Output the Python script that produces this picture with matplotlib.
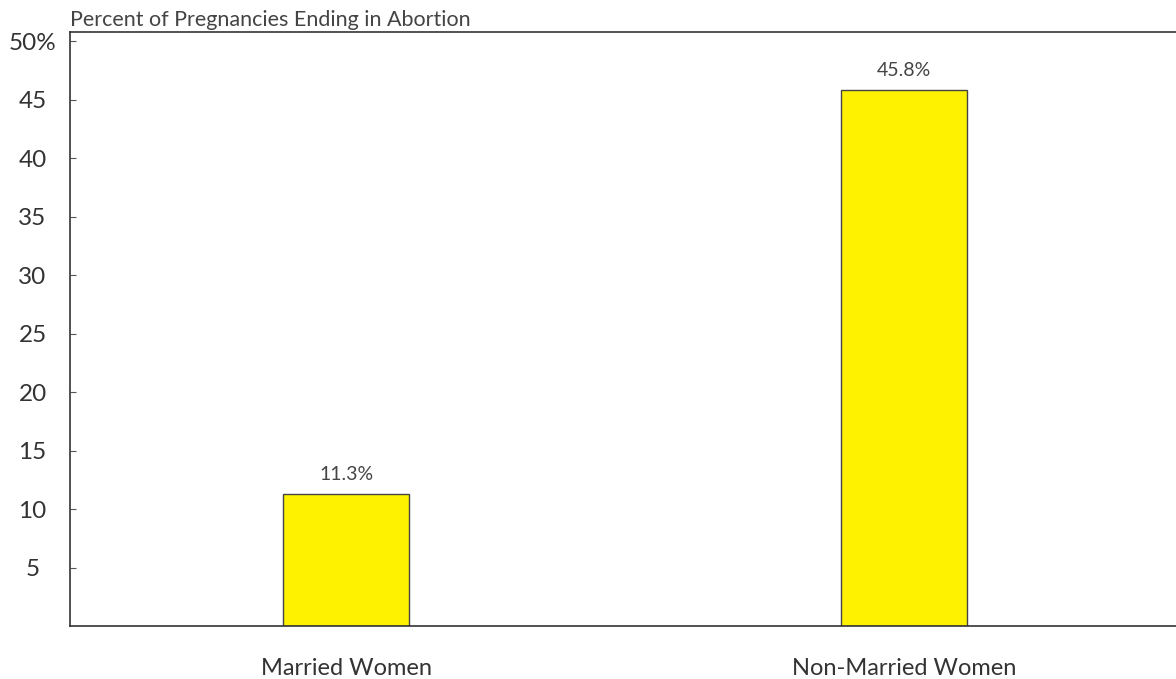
import matplotlib.pyplot as plt

categories = ["Married Women", "Non-Married Women"]
values = [11.3, 45.8]
ytick_vals = [5, 10, 15, 20, 25, 30, 35, 40, 45, 50]
ytick_labels = ["5", "10", "15", "20", "25", "30", "35", "40", "45", "50%"]

plt.rcParams['font.family'] = ['Lato', 'DejaVu Sans']
text_col = '#333333'

fig = plt.figure(figsize=(11.76, 6.79), dpi=100)
ax = fig.add_axes([70 / 1176, 53 / 679, 1110 / 1176, 594 / 679])

x = range(len(categories))
bars = ax.bar(x, values, width=0.226, color='#fff200', edgecolor='#444444', linewidth=1.0)

for xi, v in zip(x, values):
    ax.annotate(f"{v:.1f}%", (xi, v), xytext=(0, 8), textcoords='offset points',
                ha='center', va='bottom', fontsize=14, color='#444444')

ax.set_xlim(-0.495, 1.495)
ax.set_ylim(0, 50.8)

ax.set_yticks(ytick_vals)
ax.set_yticklabels(ytick_labels, ha='center')
ax.tick_params(axis='y', direction='in', length=4, width=0.8, pad=27,
               labelsize=17.5, labelcolor=text_col, color='#555555')
ax.set_xticks(list(x))
ax.set_xticklabels(categories)
ax.tick_params(axis='x', length=0, pad=23, labelsize=17, labelcolor=text_col)

ax.spines['right'].set_visible(False)
for s in ['left', 'bottom', 'top']:
    ax.spines[s].set_color('#333333')
    ax.spines[s].set_linewidth(1.2)

ax.text(0, 1.003, "Percent of Pregnancies Ending in Abortion", transform=ax.transAxes,
        ha='left', va='bottom', fontsize=15.5, color='#444444')

fig.savefig("out.png", dpi=100)
